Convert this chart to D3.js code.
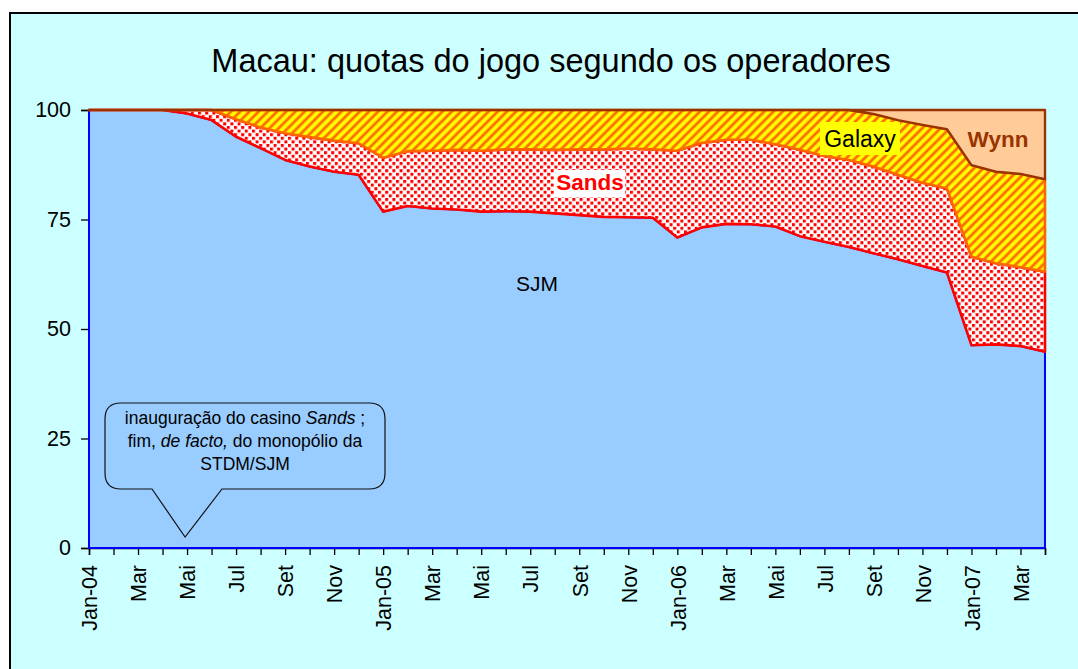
<!DOCTYPE html>
<html>
<head>
<meta charset="utf-8">
<script src="https://cdn.jsdelivr.net/npm/d3@7"></script>
<style>
  body { margin: 0; background: #ffffff; }
  svg { display: block; font-family: "Liberation Sans", Arial, sans-serif; }
</style>
</head>
<body>
<div id="chart"></div>
<script>
// month labels (Jan-04 .. Abr-07), only every second one is shown
const months = ["Jan-04","Fev","Mar","Abr","Mai","Jun","Jul","Ago","Set","Out","Nov","Dez",
                "Jan-05","Fev","Mar","Abr","Mai","Jun","Jul","Ago","Set","Out","Nov","Dez",
                "Jan-06","Fev","Mar","Abr","Mai","Jun","Jul","Ago","Set","Out","Nov","Dez",
                "Jan-07","Fev","Mar","Abr"];

// market shares (%)
const sjm    = [100,100,100,100,99.2,97.7,93.9,91.3,88.6,87.1,85.9,85.2,
                76.8,78.1,77.5,77.3,76.8,76.9,76.8,76.4,76.0,75.6,75.5,75.4,
                70.9,73.2,74.0,73.9,73.4,71.2,69.9,68.7,67.3,65.9,64.4,62.9,
                46.3,46.5,46.1,44.8];
const sands  = [0,0,0,0,0.8,2.3,4.0,4.7,6.1,6.7,7.1,7.2,
                12.3,12.5,13.2,13.6,13.9,14.1,14.2,14.5,15.0,15.4,15.7,15.6,
                19.8,19.3,19.2,19.3,18.8,19.7,19.6,19.9,19.8,19.3,19.0,19.2,
                20.2,18.5,18.0,18.3];
const galaxy = [0,0,0,0,0,0,2.1,4.0,5.3,6.2,7.0,7.6,
                10.9,9.4,9.3,9.1,9.3,9.0,9.0,9.1,9.0,9.0,8.8,9.0,
                9.3,7.5,6.8,6.8,7.8,9.1,10.5,11.4,12.0,12.5,13.2,13.5,
                20.9,20.9,21.3,21.1];
const wynn   = [0,0,0,0,0,0,0,0,0,0,0,0,
                0,0,0,0,0,0,0,0,0,0,0,0,
                0,0,0,0,0,0,0,0,0.9,2.3,3.4,4.4,
                12.6,14.1,14.6,15.8];

const yTicks = [0, 25, 50, 75, 100];
const keys = ["SJM", "Sands", "Galaxy", "Wynn"];

const rows = months.map((m, i) => ({
  SJM: sjm[i], Sands: sands[i], Galaxy: galaxy[i], Wynn: wynn[i]
}));

const width = 1078, height = 669;
const margin = {top: 110, right: 33, bottom: 121, left: 89};

const svg = d3.select("#chart").append("svg")
    .attr("width", width)
    .attr("height", height);

const defs = svg.append("defs");

// Sands: red dots on white
const dots = defs.append("pattern")
    .attr("id", "dots")
    .attr("patternUnits", "userSpaceOnUse")
    .attr("width", 7.2).attr("height", 7.2);
dots.append("rect").attr("width", 7.2).attr("height", 7.2).attr("fill", "#ffffff");
dots.append("rect").attr("x", 0).attr("y", 0).attr("width", 3).attr("height", 3).attr("fill", "#ff0000");
dots.append("rect").attr("x", 3.6).attr("y", 3.6).attr("width", 3).attr("height", 3).attr("fill", "#ff0000");

// Galaxy: orange diagonal stripes on yellow
const stripes = defs.append("pattern")
    .attr("id", "stripes")
    .attr("patternUnits", "userSpaceOnUse")
    .attr("width", 6.5).attr("height", 10)
    .attr("patternTransform", "rotate(45)");
stripes.append("rect").attr("width", 6.5).attr("height", 10).attr("fill", "#ffff00");
stripes.append("rect").attr("x", 0).attr("width", 0.6).attr("height", 10).attr("fill", "#ffaa00");
stripes.append("rect").attr("x", 0.6).attr("width", 2.2).attr("height", 10).attr("fill", "#ff6a00");
stripes.append("rect").attr("x", 2.8).attr("width", 0.6).attr("height", 10).attr("fill", "#ffaa00");

// chart area
svg.append("rect")
    .attr("x", 10).attr("y", 13)
    .attr("width", 1090).attr("height", 680)
    .attr("fill", "#ccffff")
    .attr("stroke", "#000000")
    .attr("stroke-width", 2);

svg.append("text")
    .attr("x", 551).attr("y", 72)
    .attr("text-anchor", "middle")
    .attr("font-size", 32.5)
    .text("Macau: quotas do jogo segundo os operadores");

const x = d3.scalePoint()
    .domain(d3.range(months.length))
    .range([margin.left, width - margin.right]);

const y = d3.scaleLinear()
    .domain([0, 100])
    .range([height - margin.bottom, margin.top]);

// axes
const xAxis = svg.append("g")
    .attr("transform", `translate(0,${height - margin.bottom})`)
    .call(d3.axisBottom(x).tickSize(7).tickFormat(i => i % 2 === 0 ? months[i] : ""));
xAxis.select(".domain").attr("stroke", "#000").attr("stroke-width", 1.5);
xAxis.selectAll(".tick line").attr("stroke", "#000").attr("stroke-width", 1.3);
xAxis.selectAll("text")
    .attr("font-size", 21.5)
    .attr("fill", "#000")
    .attr("text-anchor", "end")
    .attr("transform", "rotate(-90)")
    .attr("x", -17)
    .attr("y", 0)
    .attr("dy", "0.36em");

const yAxis = svg.append("g")
    .attr("transform", `translate(${margin.left},0)`)
    .call(d3.axisLeft(y).tickValues(yTicks).tickSize(8));
yAxis.select(".domain").attr("stroke", "#000").attr("stroke-width", 1.5);
yAxis.selectAll(".tick line").attr("stroke", "#000").attr("stroke-width", 1.3);
yAxis.selectAll("text")
    .attr("font-size", 21.5)
    .attr("fill", "#000")
    .attr("x", -18);

// stacked areas
const series = d3.stack().keys(keys)(rows);

const fills = {SJM: "#99ccff", Sands: "url(#dots)", Galaxy: "url(#stripes)", Wynn: "#ffcc99"};
const strokes = {SJM: "#0000ff", Sands: "#ff0000", Galaxy: "#ff6600", Wynn: "#993300"};
const widths = {SJM: 2, Sands: 2.6, Galaxy: 2.6, Wynn: 2.4};

const area = d3.area()
    .x((d, i) => x(i))
    .y0(d => y(d[0]))
    .y1(d => y(d[1]));

svg.append("g")
  .selectAll("path")
  .data(series)
  .join("path")
    .attr("d", d => area(d) + "Z")
    .attr("fill", d => fills[d.key])
    .attr("stroke", d => strokes[d.key])
    .attr("stroke-width", d => widths[d.key])
    .attr("stroke-linejoin", "round");

// series labels
svg.append("text")
    .attr("x", 537).attr("y", 291)
    .attr("text-anchor", "middle")
    .attr("font-size", 21)
    .text("SJM");

svg.append("rect")
    .attr("x", 554).attr("y", 170).attr("width", 71).attr("height", 27)
    .attr("fill", "#ffffff");
svg.append("text")
    .attr("x", 590).attr("y", 190)
    .attr("text-anchor", "middle")
    .attr("font-size", 22.5)
    .attr("font-weight", "bold")
    .attr("fill", "#ff0000")
    .text("Sands");

svg.append("rect")
    .attr("x", 820).attr("y", 122).attr("width", 80).attr("height", 33)
    .attr("fill", "#ffff00");
svg.append("text")
    .attr("x", 860).attr("y", 147)
    .attr("text-anchor", "middle")
    .attr("font-size", 23)
    .text("Galaxy");

svg.append("text")
    .attr("x", 998).attr("y", 147)
    .attr("text-anchor", "middle")
    .attr("font-size", 22.5)
    .attr("font-weight", "bold")
    .attr("fill", "#993300")
    .text("Wynn");

// callout
const bx0 = 105, bx1 = 385, by0 = 403, by1 = 489, r = 16;
const tipX = x(4) - 2, tipY = 537;
const callout = d3.path();
callout.moveTo(bx0 + r, by0);
callout.lineTo(bx1 - r, by0);
callout.quadraticCurveTo(bx1, by0, bx1, by0 + r);
callout.lineTo(bx1, by1 - r);
callout.quadraticCurveTo(bx1, by1, bx1 - r, by1);
callout.lineTo(222, by1);
callout.lineTo(tipX, tipY);
callout.lineTo(152, by1);
callout.lineTo(bx0 + r, by1);
callout.quadraticCurveTo(bx0, by1, bx0, by1 - r);
callout.lineTo(bx0, by0 + r);
callout.quadraticCurveTo(bx0, by0, bx0 + r, by0);
callout.closePath();

svg.append("path")
    .attr("d", callout.toString())
    .attr("fill", "#99ccff")
    .attr("stroke", "#111")
    .attr("stroke-width", 1.2);

const note = svg.append("text")
    .attr("text-anchor", "middle")
    .attr("font-size", 17.5)
    .attr("fill", "#000");
const l1 = note.append("tspan").attr("x", 245).attr("y", 424);
l1.append("tspan").text("inauguração do casino ");
l1.append("tspan").attr("font-style", "italic").text("Sands");
l1.append("tspan").text(" ;");
const l2 = note.append("tspan").attr("x", 245).attr("y", 447);
l2.append("tspan").text("fim, ");
l2.append("tspan").attr("font-style", "italic").text("de facto,");
l2.append("tspan").text("  do monopólio da");
note.append("tspan").attr("x", 245).attr("y", 470).text("STDM/SJM");
</script>
</body>
</html>
